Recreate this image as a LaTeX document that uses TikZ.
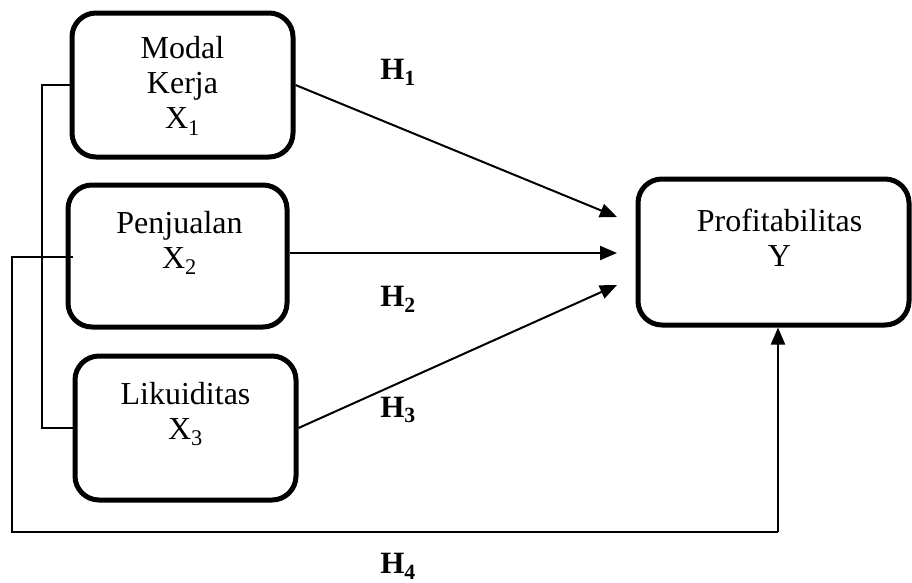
\documentclass[tikz,border=0pt]{standalone}
\usepackage{fontspec}
\setmainfont{Liberation Serif}
\usetikzlibrary{arrows.meta}
\begin{document}
\begin{tikzpicture}[x=1pt,y=-1pt,
  box/.style={draw, line width=5pt, rounded corners=24pt, inner sep=0pt},
  lbl/.style={align=center, font=\fontsize{32}{35}\selectfont, inner sep=0pt},
  hyp/.style={font=\fontsize{31}{34}\selectfont\bfseries, inner sep=0pt},
  conn/.style={line width=2pt},
  arr/.style={conn, -{Triangle[length=17pt,width=14pt]}}]
\useasboundingbox (0,0) rectangle (912,582);
% boxes
\node[box, minimum width=221pt, minimum height=144pt] (b1) at (182.5,85) {};
\node[box, minimum width=219pt, minimum height=142pt] (b2) at (177.5,256) {};
\node[box, minimum width=221pt, minimum height=144pt] (b3) at (185.5,428) {};
\node[box, minimum width=271pt, minimum height=146pt] (by) at (773.5,252) {};
% texts
\node[lbl] (t1) at (182.5,86) {Modal\\Kerja\\X\textsubscript{1}};
\node[lbl] (t2) at (179.5,243) {Penjualan\\X\textsubscript{2}};
\node[lbl] (t3) at (185.5,414) {Likuiditas\\X\textsubscript{3}};
\node[lbl] (ty) at (779.5,238) {Profitabilitas\\Y};
% hypothesis labels
\node[hyp] (h1) at (398,72) {H\textsubscript{1}};
\node[hyp] (h2) at (398,299) {H\textsubscript{2}};
\node[hyp] (h3) at (398,410) {H\textsubscript{3}};
\node[hyp] (h4) at (398,566) {H\textsubscript{4}};
% arrow tips
\coordinate (p1) at (617,217);
\coordinate (p2) at (617,253);
\coordinate (p3) at (617,285);
\draw[arr] (b1.east) -- (p1);
\draw[arr] (b2.east |- p2) -- (p2);
\draw[arr] (b3.east) -- (p3);
% left bracket
\coordinate (lx) at (42,0);
\draw[conn] (b1.west) -- (b1.west -| lx) -- (b3.west -| lx) -- (b3.west);
% outer line H4
\coordinate (s4) at (73,257);
\coordinate (c1) at (12,257);
\coordinate (c2) at (12,532);
\coordinate (c3) at (778,532);
\draw[conn] (s4) -- (c1) -- (c2) -- (c3);
\draw[arr] (c3) -- (c3 |- by.south);
\end{tikzpicture}
\end{document}
